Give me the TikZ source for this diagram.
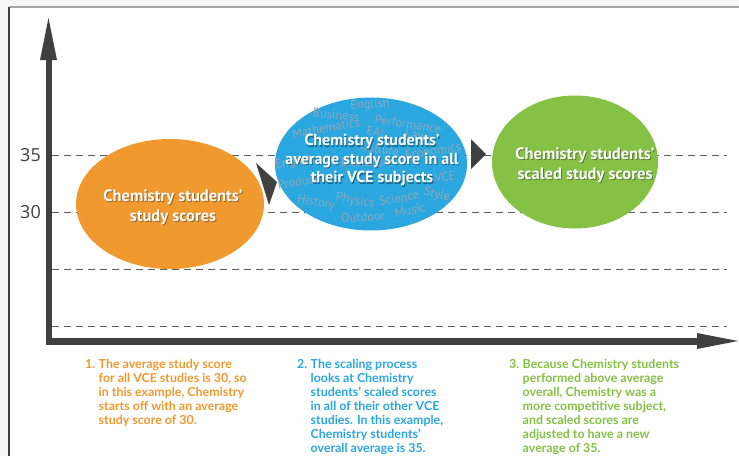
\documentclass[tikz,border=0pt]{standalone}
\usepackage{fontspec}
\usepackage{tikz}
\usetikzlibrary{positioning}
\usetikzlibrary{shapes.geometric}
\usepackage{xcolor}

\newfontfamily\axisfont{Open Sans}
\newfontfamily\bubblefont{PT Sans}
\newfontfamily\notefont{Lato}

\definecolor{chemorange}{HTML}{F0992F}
\definecolor{chemblue}{HTML}{2AA7DF}
\definecolor{chemgreen}{HTML}{85C145}
\definecolor{axisgray}{HTML}{404040}
\definecolor{wordgray}{HTML}{8EA7BC}

\tikzset{
  bubble/.style={ellipse, inner sep=0pt},
  bubbletext/.style={font=\bubblefont\bfseries\fontsize{16.5}{20}\selectfont, text=white, align=center, inner sep=0pt},
  bubbleshade/.style={text=black, opacity=0.35, xshift=1pt, yshift=-1.5pt},
  bluetext/.style={font=\bubblefont\bfseries\fontsize{16}{18.5}\selectfont},
  wordcloud/.style={font=\bubblefont\fontsize{12.5}{13}\selectfont, text=wordgray, inner sep=0pt},
  scoreline/.style={axisgray!85, line width=1pt, dash pattern=on 7pt off 5pt},
  notenum/.style={font=\notefont\bfseries\fontsize{12.4}{14}\selectfont, inner sep=0pt, anchor=north west},
  notetext/.style={font=\notefont\bfseries\fontsize{12.4}{14}\selectfont, align=left, inner sep=0pt, anchor=north west}
}

\begin{document}
\begin{tikzpicture}[x=1pt,y=-1pt]

\useasboundingbox (0,0) rectangle (739,456);

% frame
\fill[gray!7] (0,0) rectangle (739,456);
\fill[white] (9,7) rectangle (739,456);
\draw[gray!70, line width=1.2pt] (9,7)--(739,7);
\draw[axisgray, line width=1.2pt] (9,7)--(9,456);

% score lines
\foreach \yy in {155,212,269,326}
  \draw[scoreline] (52,\yy)--(727,\yy);

\node[font=\axisfont\fontsize{18}{18}\selectfont, text=axisgray, anchor=east, inner sep=0pt] (s35) at (41,155) {35};
\node[font=\axisfont\fontsize{18}{18}\selectfont, text=axisgray, anchor=east, inner sep=0pt] (s30) at (41,212) {30};

% axes
\draw[axisgray, line width=6pt] (49,344)--(49,58);
\fill[axisgray] (40,60)--++(8.5,-42)--++(8.5,42)--cycle;
\draw[axisgray, line width=7pt] (46,341)--(699,341);
\fill[axisgray] (697,333)--++(41,8)--++(-41,8)--cycle;

% bubbles
\node[bubble, fill=chemorange, minimum width=188pt, minimum height=130pt] (scores) at (170,204) {};
\node[bubble, fill=chemblue, minimum width=192pt, minimum height=133pt] (average) at (371,164) {};
\node[bubble, fill=chemgreen, minimum width=166pt, minimum height=133pt] (scaled) at (575,162) {};

% subjects behind the blue text
\foreach \wx/\wy/\wr/\wt in {
  370/105/3/English, 336/115/-6/Business, 408/124/-9/Performance,
  326/128/10/Mathematics, 377/132/-10/EAL, 416/135/-8/Law,
  380/149/-10/Culture, 433/151/9/Economics, 295/163/8/English,
  367/162/0/Literature, 298/182/10/Product, 445/177/6/VCE,
  316/203/-10/History, 355/201/-10/Physics, 399/198/10/Science,
  437/195/-15/Style, 363/217/4/Outdoor, 410/210/12/Music}
  \node[wordcloud, rotate=\wr] (word-\wx-\wy) at (\wx,\wy) {\wt};

% arrows between bubbles
\fill[axisgray] (256,163)--(277,182)--(269,205)--cycle;
\fill[axisgray] (471,139)--(486,154)--(471,169)--cycle;

% bubble labels
\node[bubbletext, bubbleshade] at (173,207) {Chemistry students’\\study scores};
\node[bubbletext] (scorestext) at (173,207) {Chemistry students’\\study scores};
\node[bubbletext, bluetext, bubbleshade] at (372,160) {Chemistry students’\\average study score in all\\their VCE subjects};
\node[bubbletext, bluetext] (averagetext) at (372,160) {Chemistry students’\\average study score in all\\their VCE subjects};
\node[bubbletext, bubbleshade] at (585,165) {Chemistry students’\\scaled study scores};
\node[bubbletext] (scaledtext) at (585,165) {Chemistry students’\\scaled study scores};

% notes
\node[notenum, text=chemorange] (n1) at (85,359) {1.};
\node[notetext, text=chemorange, right=3pt of n1.north east, anchor=north west] (t1) {The average study score\\for all VCE studies is 30, so\\in this example, Chemistry\\starts off with an average\\study score of 30.};

\node[notenum, text=chemblue] (n2) at (297,359) {2.};
\node[notetext, text=chemblue, right=3pt of n2.north east, anchor=north west] (t2) {The scaling process\\looks at Chemistry\\students’ scaled scores\\in all of their other VCE\\studies. In this example,\\Chemistry students’\\overall average is 35.};

\node[notenum, text=chemgreen] (n3) at (509,359) {3.};
\node[notetext, text=chemgreen, right=3pt of n3.north east, anchor=north west] (t3) {Because Chemistry students\\performed above average\\overall, Chemistry was a\\more competitive subject,\\and scaled scores are\\adjusted to have a new\\average of 35.};

\end{tikzpicture}
\end{document}
